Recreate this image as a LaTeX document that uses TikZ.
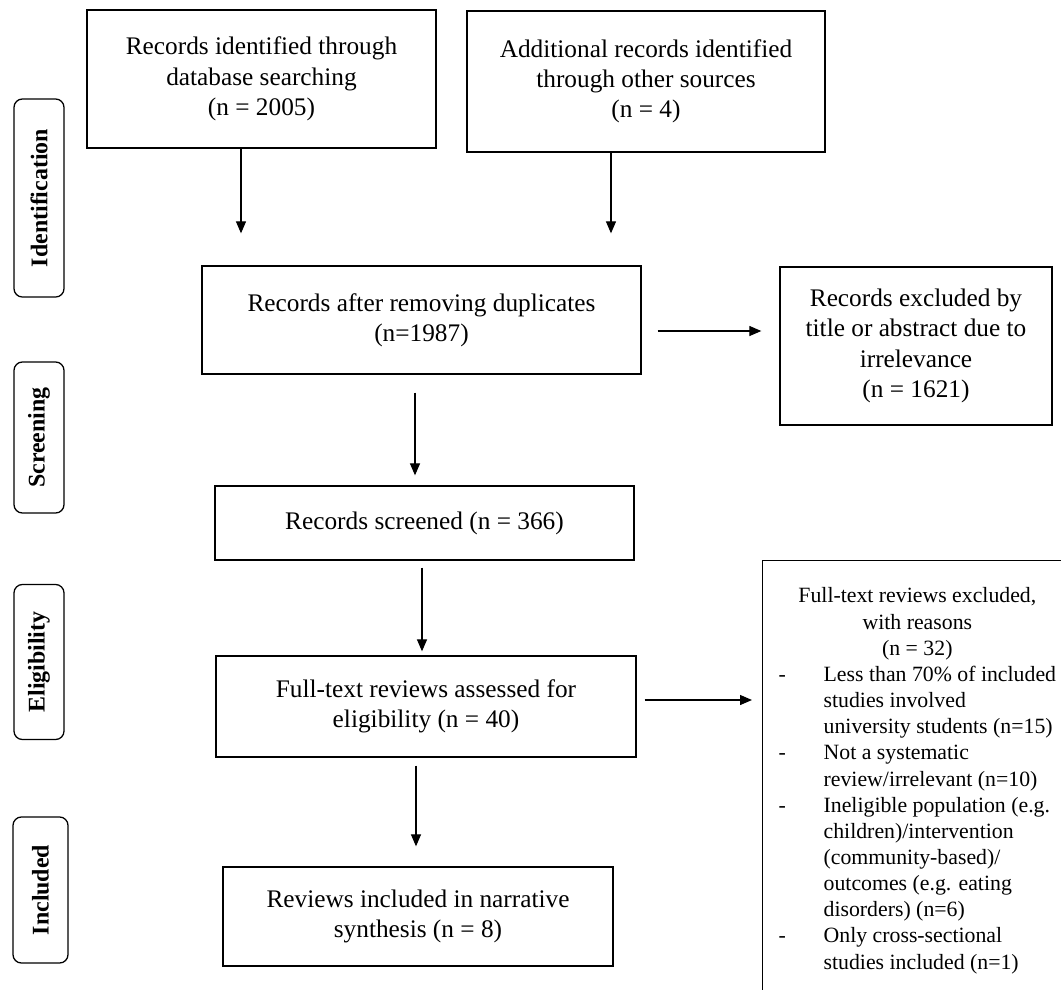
\documentclass[tikz,border=0pt]{standalone}
\usepackage{fontspec}
\setmainfont{Liberation Serif}
\usetikzlibrary{arrows.meta}

\begin{document}
\begin{tikzpicture}[x=0.025cm,y=-0.025cm,
  box/.style={rectangle,draw,line width=0.9pt,align=center,inner sep=0pt,font=\fontsize{18}{21.5}\selectfont},
  stage/.style={rectangle,draw,rounded corners=6pt,line width=0.9pt,rotate=90,inner sep=0pt,font=\bfseries\fontsize{17}{20}\selectfont},
  arr/.style={-{Triangle[length=0.3cm,width=0.25cm]},line width=0.9pt}]
\useasboundingbox (0,0) rectangle (1061,989);

\path (39,198) node[stage,minimum width=4.95cm,minimum height=1.25cm] (idstage) {Identification};
\path (39,437.5) node[stage,minimum width=3.775cm,minimum height=1.25cm] (scrstage) {Screening};
\path (39,662) node[stage,minimum width=3.875cm,minimum height=1.25cm] (elistage) {Eligibility};
\path (40.5,890) node[stage,minimum width=3.65cm,minimum height=1.375cm] (incstage) {Included};

\path (261.5,79) node[box,minimum width=8.725cm,minimum height=3.45cm] (records) {Records identified through\\ database searching\\ (n = 2005)};
\path (646,81.5) node[box,minimum width=8.95cm,minimum height=3.525cm] (additional) {Additional records identified\\ through other sources\\ (n = 4)};
\path (421.5,320) node[box,minimum width=10.975cm,minimum height=2.7cm] (nodup) {Records after removing duplicates\\ (n=1987)};
\path (916,346) node[box,minimum width=6.8cm,minimum height=3.95cm] (excltitle) {Records excluded by\\ title or abstract due to\\ irrelevance\\ (n = 1621)};
\path (424.5,523) node[box,minimum width=10.475cm,minimum height=1.85cm] (screened) {Records screened (n = 366)};
\path (426,706.5) node[box,minimum width=10.5cm,minimum height=2.525cm] (fulltext) {Full-text reviews assessed for\\ eligibility (n = 40)};
\path (418,916.5) node[box,minimum width=9.75cm,minimum height=2.475cm] (included) {Reviews included in narrative\\ synthesis (n = 8)};

\path (762,560) node[anchor=north west,draw,line width=0.9pt,inner xsep=0.4cm,inner ysep=0.6cm,font=\fontsize{15.5}{18.6}\selectfont] (exclfull) {\parbox[t][11cm][t]{7.2cm}{\begin{tabular}[t]{@{}p{1.125cm}@{}l@{}}
\multicolumn{2}{@{}c@{}}{\makebox[6.9cm]{Full-text reviews excluded,}}\\
\multicolumn{2}{@{}c@{}}{\makebox[6.9cm]{with reasons}}\\
\multicolumn{2}{@{}c@{}}{\makebox[6.9cm]{(n = 32)}}\\
- & Less than 70\% of included\\
  & studies involved\\
  & university students (n=15)\\
- & Not a systematic\\
  & review/irrelevant (n=10)\\
- & Ineligible population (e.g.\\
  & children)/intervention\\
  & (community-based)/\\
  & outcomes (e.g. eating\\
  & disorders) (n=6)\\
- & Only cross-sectional\\
  & studies included (n=1)
\end{tabular}}};

\draw[arr,shorten >=0.8cm] ([xshift=-0.5125cm]records.south) -- ([xshift=-0.5125cm]records.south |- nodup.north);
\draw[arr,shorten >=0.8cm] ([xshift=-0.875cm]additional.south) -- ([xshift=-0.875cm]additional.south |- nodup.north);
\draw[arr,shorten <=0.4cm,shorten >=0.45cm] ([yshift=-0.275cm]nodup.east) -- ([yshift=-0.275cm]nodup.east -| excltitle.west);
\draw[arr,shorten <=0.45cm,shorten >=0.25cm] ([xshift=-0.1625cm]nodup.south) -- ([xshift=-0.1625cm]nodup.south |- screened.north);
\draw[arr,shorten <=0.175cm,shorten >=0.1cm] ([xshift=-0.0625cm]screened.south) -- ([xshift=-0.0625cm]screened.south |- fulltext.north);
\draw[arr,shorten <=0.2cm,shorten >=0.25cm] ([yshift=0.1625cm]fulltext.east) -- ([yshift=0.1625cm]fulltext.east -| exclfull.west);
\draw[arr,shorten <=0.2cm,shorten >=0.5cm] ([xshift=-0.25cm]fulltext.south) -- ([xshift=-0.25cm]fulltext.south |- included.north);
\end{tikzpicture}
\end{document}
